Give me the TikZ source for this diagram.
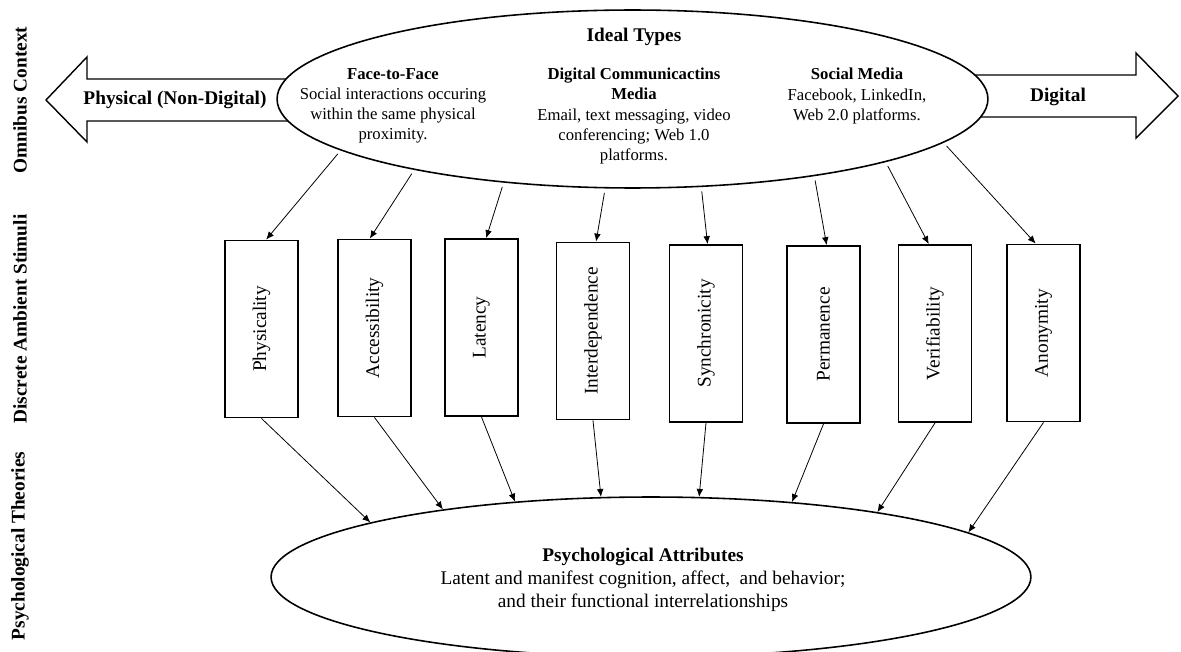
\documentclass[tikz,border=0pt]{standalone}
\usepackage{fontspec}
\setmainfont{Liberation Serif}
\usepackage{tikz}
\usetikzlibrary{shapes, arrows.meta}
\tikzset{
    normal/.style={draw, line width=0.9pt},
    oval/.style={style=normal, ellipse, fill=white, inner sep=0pt}, % ideal types / attributes
    stim/.style={draw, line width=1.1pt, minimum width=1.46cm, minimum height=3.54cm, inner sep=0pt, font=\fontsize{11}{13}\selectfont}, % discrete stimuli
    e/.style={line width=0.45pt, ->, >={Latex[length=4.5pt, width=3.8pt]}},
    side/.style={rotate=90, font=\fontsize{11}{13}\selectfont\bfseries}, % row labels on the left
    big/.style={draw, line width=0.8pt, fill=white}, % wide arrows
    txt/.style={align=center, inner sep=0pt}
}

\begin{document}
\begin{tikzpicture}[x=0.02cm, y=-0.02cm]
    \useasboundingbox (0,0) rectangle (1181,652);

    % row labels
    \node[side] (omni) at (20,100) {Omnibus Context};
    \node[side] (disc) at (20,319) {Discrete Ambient Stimuli};
    \node[side] (theo) at (20,546) {Psychological Theories};

    % wide arrows, behind the top oval
    \draw[big] (290,79) -- (87,79) -- (87,57) -- (46,100) -- (87,142) -- (87,121) -- (290,121) -- cycle;
    \draw[big] (970,75) -- (1136,75) -- (1136,53) -- (1178,96) -- (1136,138) -- (1136,117) -- (970,117) -- cycle;
    \node[txt, font=\fontsize{11}{13}\selectfont\bfseries] (physical) at (175,100) {Physical (Non-Digital)};
    \node[txt, font=\fontsize{11}{13}\selectfont\bfseries] (digital) at (1058,97) {Digital};

    % ideal types
    \node[oval, minimum width=14.22cm, minimum height=3.56cm] (ideal) at (632.5,99) {};
    \node[txt, font=\fontsize{11}{13}\selectfont\bfseries] (idealtitle) at (634,37) {Ideal Types};
    \node[txt, font=\fontsize{9.5}{11.4}\selectfont] (f2f) at (393,106)
        {\textbf{Face-to-Face}\\Social interactions occuring\\within the same physical\\proximity.};
    \node[txt, font=\fontsize{9.5}{11.4}\selectfont] (dcm) at (634,116)
        {\textbf{Digital Communicactins}\\\textbf{Media}\\Email, text messaging, video\\conferencing; Web 1.0\\platforms.};
    \node[txt, font=\fontsize{9.5}{11.4}\selectfont] (social) at (857,96)
        {\textbf{Social Media}\\Facebook, LinkedIn,\\Web 2.0 platforms.};

    % psychological attributes
    \node[oval, minimum width=15.2cm, minimum height=3.2cm] (attr) at (651,577) {};
    \node[txt, font=\fontsize{11}{13}\selectfont] (attrtext) at (643,580)
        {\textbf{Psychological Attributes}\\Latent and manifest cognition, affect,\ \ and behavior;\\and their functional interrelationships};

    % stimuli
    \foreach \name/\x/\y/\label in {b1/261.5/329/Physicality, b2/374.5/328/Accessibility,
        b3/481.5/327.5/Latency, b4/593/331/Interdependence, b5/706/333.5/Synchronicity,
        b6/823.5/334.5/Permanence, b7/935/333.5/Verifiability, b8/1043.5/333/Anonymity}
        \node[stim] (\name) at (\x,\y) {\rotatebox{90}{\label}};

    \foreach \i/\from/\to/\into in {1/190/87/169, 2/198/93/162, 3/213/87/151, 4/253/88/122,
        5/308/89/59, 6/337/88/28, 7/346/94/16, 8/352/95/8}
    {
        \draw[e, shorten <=2.5pt] (ideal.\from) -- (b\i.\to);
        \draw[e] (b\i.south) -- (attr.\into);
    }
\end{tikzpicture}
\end{document}
